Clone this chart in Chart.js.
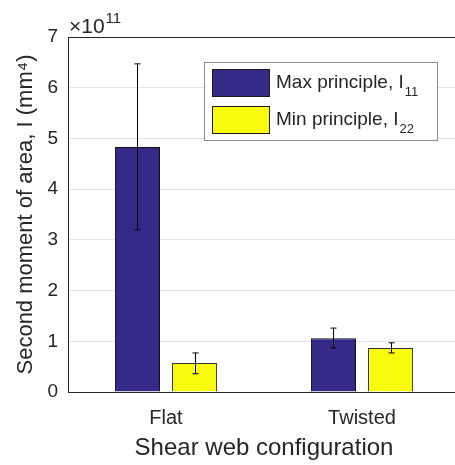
<!DOCTYPE html>
<html lang="en">
<head>
    <meta charset="UTF-8">
    <script src="https://cdn.jsdelivr.net/npm/chart.js"></script>
    <title>Second moment of area</title>
    <style>
        html, body { margin: 0; padding: 0; background: #fff; overflow: hidden; }
    </style>
</head>
<body>
    <canvas id="myChart" width="470" height="465"></canvas>
    <script>
        // data (units of 1e11 mm^4)
        const categories = ['Flat', 'Twisted'];
        const yTicks = [0, 1, 2, 3, 4, 5, 6, 7];
        const maxVals = [4.83, 1.06];
        const maxErrLow = [3.20, 0.87];
        const maxErrHigh = [6.47, 1.26];
        const minVals = [0.57, 0.87];
        const minErrLow = [0.36, 0.77];
        const minErrHigh = [0.77, 0.97];

        const FONT = "'Liberation Sans', Arial, Helvetica, sans-serif";
        const INK = '#262626';
        const BLUE = '#352a87';
        const YELLOW = '#f9fb0e';

        // error bars, exponent label, top box line and legend
        const extras = {
            id: 'extras',
            afterDatasetsDraw(chart) {
                const ctx = chart.ctx;
                const y = chart.scales.y;
                const errs = [[maxErrLow, maxErrHigh], [minErrLow, minErrHigh]];
                ctx.save();
                ctx.strokeStyle = '#000';
                ctx.lineWidth = 1;
                errs.forEach(function (e, di) {
                    chart.getDatasetMeta(di).data.forEach(function (bar, i) {
                        const x = Math.round(bar.x) + 0.5;
                        const y1 = y.getPixelForValue(e[0][i]);
                        const y2 = y.getPixelForValue(e[1][i]);
                        ctx.beginPath();
                        ctx.moveTo(x, y1); ctx.lineTo(x, y2);
                        ctx.moveTo(x - 3, y1); ctx.lineTo(x + 3, y1);
                        ctx.moveTo(x - 3, y2); ctx.lineTo(x + 3, y2);
                        ctx.stroke();
                    });
                });
                ctx.restore();
            },
            afterDraw(chart) {
                const ctx = chart.ctx;
                const a = chart.chartArea;
                ctx.save();
                // top border of the box
                ctx.strokeStyle = INK;
                ctx.lineWidth = 1;
                ctx.beginPath();
                ctx.moveTo(a.left, a.top + 0.5);
                ctx.lineTo(chart.width, a.top + 0.5);
                ctx.stroke();

                // x10^11
                ctx.fillStyle = INK;
                ctx.textBaseline = 'alphabetic';
                ctx.font = '21px ' + FONT;
                ctx.fillText('\u00d710', 69, 33);
                const ew = ctx.measureText('\u00d710').width;
                ctx.font = '15px ' + FONT;
                ctx.fillText('11', 69 + ew + 1, 23);

                // legend
                ctx.fillStyle = '#fff';
                ctx.fillRect(204, 62, 233, 78);
                ctx.strokeStyle = '#8c8c8c';
                ctx.strokeRect(204.5, 62.5, 233, 78);
                const items = [
                    { color: BLUE, text: 'Max principle, I', sub: '11', y: 69 },
                    { color: YELLOW, text: 'Min principle, I', sub: '22', y: 106 }
                ];
                items.forEach(function (it) {
                    ctx.fillStyle = it.color;
                    ctx.fillRect(212, it.y, 58, 28);
                    ctx.strokeStyle = '#1a1a1a';
                    ctx.strokeRect(212.5, it.y + 0.5, 57, 27);
                    ctx.fillStyle = INK;
                    ctx.font = '19px ' + FONT;
                    ctx.fillText(it.text, 276, it.y + 19);
                    const w = ctx.measureText(it.text).width;
                    ctx.font = '13px ' + FONT;
                    ctx.fillText(it.sub, 276 + w + 1, it.y + 27);
                });
                ctx.restore();
            }
        };

        const ctx = document.getElementById('myChart');
        new Chart(ctx, {
            type: 'bar',
            data: {
                labels: categories,
                datasets: [{
                    label: 'Max principle, I11',
                    data: maxVals,
                    backgroundColor: BLUE,
                    borderColor: '#111',
                    borderWidth: 1,
                    categoryPercentage: 0.582,
                    barPercentage: 0.79
                }, {
                    label: 'Min principle, I22',
                    data: minVals,
                    backgroundColor: YELLOW,
                    borderColor: '#333',
                    borderWidth: 1,
                    categoryPercentage: 0.582,
                    barPercentage: 0.79
                }]
            },
            options: {
                responsive: false,
                animation: false,
                layout: { padding: { top: 37, right: 10, left: 0, bottom: 0 } },
                plugins: {
                    legend: { display: false },
                    tooltip: { enabled: false }
                },
                scales: {
                    x: {
                        grid: { display: false },
                        border: { display: true, color: INK, width: 1 },
                        ticks: { color: INK, font: { family: FONT, size: 20 }, padding: 6 },
                        title: {
                            display: true,
                            text: 'Shear web configuration',
                            color: INK,
                            font: { family: FONT, size: 24 },
                            padding: { top: 0, bottom: 2 }
                        },
                        afterFit(scale) { scale.height = 73; }
                    },
                    y: {
                        min: 0,
                        max: 7,
                        afterBuildTicks(scale) {
                            scale.ticks = yTicks.map(function (v) { return { value: v }; });
                        },
                        grid: { color: '#e3e3e3', drawTicks: false },
                        border: { display: true, color: INK, width: 1 },
                        ticks: { color: INK, font: { family: FONT, size: 19 }, padding: 10 },
                        title: {
                            display: true,
                            text: 'Second moment of area, I (mm\u2074)',
                            color: INK,
                            font: { family: FONT, size: 22 },
                            padding: { top: 13, bottom: 0 }
                        },
                        afterFit(scale) { scale.width = 68; }
                    }
                }
            },
            plugins: [extras]
        });
    </script>
</body>
</html>
